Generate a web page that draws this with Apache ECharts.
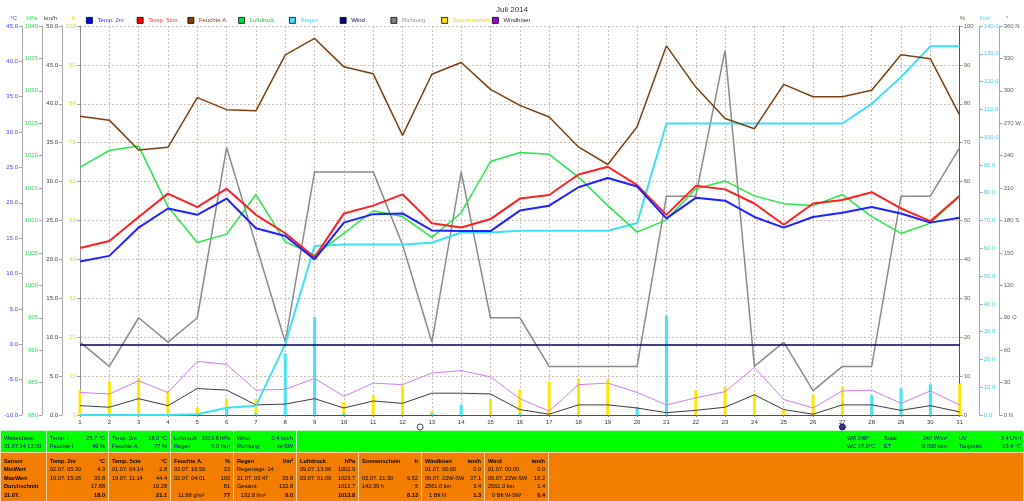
<!DOCTYPE html>
<html><head><meta charset="utf-8">
<script src="https://cdn.jsdelivr.net/npm/echarts/dist/echarts.min.js"></script>
<style>html,body{margin:0;padding:0;background:#fff}#c{width:1024px;height:501px}</style>
</head><body><div id="c"></div><script>
// ---------- data ----------
const days = [1,2,3,4,5,6,7,8,9,10,11,12,13,14,15,16,17,18,19,20,21,22,23,24,25,26,27,28,29,30,31];
const temp2m = [11.7,12.5,16.5,19.2,18.3,20.6,16.4,15.3,12.0,17.2,18.4,18.5,16.1,16.0,16.0,18.9,19.6,22.2,23.5,22.3,17.8,20.7,20.3,18.0,16.5,18.0,18.6,19.4,18.5,17.2,17.9];
const temp5cm = [13.6,14.6,18.0,21.3,19.4,22.0,18.3,15.7,12.3,18.5,19.6,21.2,17.1,16.5,17.7,20.6,21.1,24.0,25.1,22.5,18.3,22.4,21.9,19.9,16.9,19.9,20.4,21.5,19.2,17.4,21.0];
const humidity = [76.8,75.8,68.1,68.8,81.6,78.5,78.2,92.6,96.8,89.5,87.7,71.9,87.6,90.6,83.7,79.6,76.6,68.9,64.4,74.1,94.9,84.3,76.2,73.6,85.0,81.8,81.8,83.5,92.6,91.6,77.1];
const pressure = [1018.2,1020.8,1021.5,1012.1,1006.6,1007.9,1014.0,1006.7,1004.7,1008.0,1011.5,1010.6,1007.4,1011.2,1019.1,1020.5,1020.2,1016.7,1012.3,1008.2,1010.1,1014.9,1016.1,1013.8,1012.6,1012.3,1014.0,1010.6,1008.0,1009.6,1013.8];
const rainDaily = [0,0,0,0,0.3,2.3,0.7,22.2,35.3,0.6,0,0,0.6,3.7,0,0.6,0,0,0,2.8,35.8,0,0,0,0,0,0,7.1,9.6,11.1,0];
const rainTotal = [0,0,0,0,0.3,2.6,3.3,25.5,60.8,61.4,61.4,61.4,62.0,65.7,65.7,66.3,66.3,66.3,66.3,69.1,104.9,104.9,104.9,104.9,104.9,104.9,104.9,112.0,121.6,132.7,132.7];
const wind = [1.2,1.0,2.1,1.2,3.4,3.2,1.3,1.4,2.1,0.9,1.8,1.5,2.8,2.8,2.7,0.7,0.1,1.3,1.3,0.9,0.3,0.6,1.0,2.6,0.7,0.1,1.3,1.3,0.6,1.2,0.4];
const direction = [67.5,45,90,67.5,90,247.5,157.5,67.5,225,225,225,157.5,67.5,225,90,90,45,45,45,45,202.5,202.5,337.5,45,67.5,22.5,45,45,202.5,202.5,247.5];
const sunshine = [6.4,8.7,9.6,6.2,1.9,4.2,4.1,0,0,3.4,5.0,7.6,1.0,0.4,4.1,6.6,8.6,9.4,9.2,0,0,6.4,7.1,5.4,1.3,5.3,7.4,2.0,2.0,1.2,8.1];
const gusts = [2.9,2.7,4.4,2.9,6.9,6.5,3.2,3.3,4.7,2.4,4.1,3.9,5.4,5.7,4.9,2.1,0.5,3.9,4.1,2.9,1.3,2.2,3.0,6.1,2.0,0.9,3.1,3.2,1.5,3.1,1.3];
const moonDays = [12.6, 27];
const moonPhase = ['full','new'];
const compass = {0:'0 N', 90:'90 O', 180:'180 S', 270:'270 W', 360:'360 N'};
const legendNames = ['Temp. 2m','Temp. 5cm','Feuchte A.','Luftdruck','Regen','Wind','Richtung','Sonnenschein','Windböen'];

// table texts
const greenCells = [
  {l:['Wetterdaten','31.07.14 12:00'], r:['','']},
  {l:['Temp. I.','Feuchte I.'], r:['25.7 °C','49 %']},
  {l:['Temp. 2m','Feuchte A.'], r:['18.0 °C','77 %']},
  {l:['Luftdruck','Regen'], r:['1013.8 hPa','0.0 l/m²']},
  {l:['Wind','Richtung'], r:['0.4 km/h','W-SW']},
  {l:['',''], r:['','']}
];
const greenExtra = [
  {l:['WR 248°','WC 18.0°C'], r:['','']},
  {l:['Solar','ET'], r:['240 W/m²','0.000 mm']},
  {l:['UV','Taupunkt'], r:['3.4 UV-I','13.4 °C']}
];
const orangeCols = [
  {l:['Sensor','MinWert','MaxWert','Durchschnitt','31.07.'], r:['','','','','']},
  {l:['Temp. 2m','02.07. 05:30','19.07. 15:26','',''], r:['°C','4.3','30.8','17.88','18.0']},
  {l:['Temp. 5cm','01.07. 04:14','19.07. 11:14','',''], r:['°C','2.8','44.4','19.28','21.1']},
  {l:['Feuchte A.','03.07. 16:59','02.07. 04:01','','11.88 g/m³'], r:['%','33','100','81','77']},
  {l:['Regen','Regentage: 14','21.07. 03:47','Gesamt:','132.8 l/m²'], r:['l/m²','','35.8','132.8','0.0']},
  {l:['Luftdruck','09.07. 13:06','03.07. 01:09','',''], r:['hPa','1002.9','1023.7','1012.7','1013.8']},
  {l:['Sonnenschein','','03.07. 21:30','142:39 h',''], r:['h','','9.52','5','8.13']},
  {l:['Windböen','01.07. 00:00','06.07. 22W-SW','2561.0 km','1 Bft N'], r:['km/h','0.0','37.1','3.4','1.3']},
  {l:['Wind','01.07. 00:00','06.07. 22W-SW','2561.0 km','0 Bft W-SW'], r:['km/h','0.0','16.2','1.4','0.4']},
  {l:['','','','',''], r:['','','','','']}
];

// ---------- layout ----------
const F = '"Liberation Sans", Arial, sans-serif';
const TF = '5.6px ' + F;
const greenX = [[1,46],[47,108],[109,170],[171,233],[234,296],[297,1023]];
const greenExtraX = [[847,880],[884,947],[959,1021]];
const orangeX = [[1,46],[47,108],[109,170],[171,233],[234,296],[297,358],[359,421],[422,484],[485,548],[549,1023]];
const greenRowsY = [438.5, 446.5];
const orangeRowsY = [461, 469.5, 478, 486.5, 495];

const pair = a => a.map((v,i)=>[days[i], v]);

function yAx(o){
  const c = o.color;
  return {
    type:'value', position:o.pos, offset:o.off, min:o.min, max:o.max, interval:o.iv,
    axisLine:{show:true, onZero:false, lineStyle:{color:o.lineColor||'#a8a8a8', width:1}},
    axisTick:{show:true, length:3, lineStyle:{color:'#a0a0a0'}},
    splitLine:o.split ? {show:true, lineStyle:{color:'#c8bcb4', type:[2,2], width:1}} : {show:false},
    axisLabel:{color:c, fontSize:6, fontFamily:F, margin:o.margin||4, formatter:o.fmt},
    name:o.name, nameLocation:'end', nameGap:5,
    nameTextStyle:{color:c, fontSize:6, fontFamily:F, align:o.pos==='left'?'right':'left', padding:o.pos==='left'?[0,5,0,0]:[0,0,0,o.np||0]}
  };
}

const yAxes = [
  yAx({name:'°C', pos:'left', off:58, min:-10, max:45, iv:5, color:'#4646ff', fmt:v=>v.toFixed(1)}),
  yAx({name:'hPa', pos:'left', off:38, min:980, max:1040, iv:5, color:'#2ee05a', fmt:v=>String(v)}),
  yAx({name:'km/h', pos:'left', off:18, min:0, max:50, iv:5, color:'#404040', fmt:v=>v.toFixed(1)}),
  yAx({name:'h', pos:'left', off:0, min:0, max:100, iv:10, color:'#e8e000', fmt:v=>String(v), lineColor:'#909090'}),
  yAx({name:'%', pos:'right', off:0, min:0, max:100, iv:10, color:'#806040', fmt:v=>String(v), split:true, lineColor:'#505070', np:0}),
  yAx({name:'l/m²', pos:'right', off:20, min:0, max:140, iv:10, color:'#3cd4f0', fmt:v=>v.toFixed(1)}),
  yAx({name:'°', pos:'right', off:40, min:0, max:360, iv:30, color:'#606060', fmt:v=>compass[v]||String(v), np:6})
];

function line(name, data, yi, color, w, z){
  return {name, type:'line', yAxisIndex:yi, data:pair(data), symbol:'none', silent:true,
    lineStyle:{color, width:w}, itemStyle:{color}, z:z||3};
}

const series = [
  {name:'Sonnenschein', type:'bar', yAxisIndex:3, data:pair(sunshine), barWidth:3, barGap:'-100%', itemStyle:{color:'#ffe800'}, silent:true, z:2},
  {name:'Regen', type:'bar', yAxisIndex:5, data:pair(rainDaily), barWidth:3, barGap:'-100%', itemStyle:{color:'#44e4fa'}, silent:true, z:2},
  line('Wind', wind, 2, '#3a3a44', 1),
  line('Windböen', gusts, 2, '#d07cf0', 1),
  line('Richtung', direction, 6, '#8a8a8a', 1.5),
  line('Regen', rainTotal, 5, '#3ee0f8', 2),
  line('Luftdruck', pressure, 1, '#22e848', 1.5),
  line('Feuchte A.', humidity, 4, '#7a4010', 1.5),
  line('Temp. 5cm', temp5cm, 0, '#ff2020', 2, 4),
  Object.assign(line('Temp. 2m', temp2m, 0, '#2020ff', 2, 5), {
    markLine:{silent:true, symbol:['none','none'], label:{show:false}, animation:false,
      lineStyle:{color:'#000066', width:1.5, type:'solid'}, data:[{yAxis:0}]}
  }),
  {name:'moon', type:'scatter', yAxisIndex:2, clip:false, silent:true, z:6,
    data:moonDays.map((d,i)=>({value:[d,0], itemStyle: moonPhase[i]==='full'
      ? {color:'#ffffff', borderColor:'#202020', borderWidth:1}
      : {color:'#000060', borderColor:'#000060', borderWidth:1}})),
    symbol:'circle', symbolSize:6, symbolOffset:[0,12]}
];

const legendBox = ['#0000ff','#ff0000','#804000','#00e040','#40e0ff','#000080','#808080','#ffe000','#a000e0'];
const legendText = ['#3030ff','#ff3030','#804020','#20d040','#40d8f0','#000060','#909090','#e8d800','#303030'];
const legends = legendNames.map((n,i)=>({
  left:86+i*50.75, top:17, padding:0, itemWidth:6, itemHeight:6, itemGap:0, icon:'rect', selectedMode:false,
  textStyle:{fontSize:6, fontFamily:F, color:legendText[i]},
  data:[{name:n, icon:'rect', itemStyle:{color:legendBox[i], borderColor:'#000', borderWidth:0.8}, textStyle:{color:legendText[i]}}]
}));

// ---------- table graphics ----------
const g = [];
g.push({type:'rect', shape:{x:0,y:430,width:1024,height:23}, style:{fill:'#c8f8c8'}, silent:true});
g.push({type:'rect', shape:{x:0,y:452,width:1024,height:49}, style:{fill:'#f8d0a0'}, silent:true});
function txt(x, y, t, fill, font, align){
  g.push({type:'text', x, y, silent:true, style:{text:t, fill, font, align, verticalAlign:'middle'}});
}
greenCells.forEach((c,i)=>{
  const [x0,x1] = greenX[i];
  g.push({type:'rect', shape:{x:x0,y:431,width:x1-x0,height:21}, style:{fill:'#00ff00'}, silent:true});
  c.l.forEach((t,r)=>{ if(t) txt(x0+3, greenRowsY[r], t, '#000080', TF, 'left'); });
  c.r.forEach((t,r)=>{ if(t) txt(x1-3, greenRowsY[r], t, '#000080', TF, 'right'); });
});
greenExtra.forEach((c,i)=>{
  const [x0,x1] = greenExtraX[i];
  c.l.forEach((t,r)=>{ if(t) txt(x0, greenRowsY[r], t, '#000080', TF, 'left'); });
  c.r.forEach((t,r)=>{ if(t) txt(x1, greenRowsY[r], t, '#000080', TF, 'right'); });
});
orangeCols.forEach((c,i)=>{
  const [x0,x1] = orangeX[i];
  g.push({type:'rect', shape:{x:x0,y:453,width:x1-x0,height:48}, style:{fill:'#f47e00'}, silent:true});
  c.l.forEach((t,r)=>{
    if(!t) return;
    const bold = (i===0 || r===0);
    const ind = (r===4 && i>0) ? 7 : 3;
    txt(x0+ind, orangeRowsY[r], t, '#000', (bold?'bold ':'')+TF, 'left');
  });
  c.r.forEach((t,r)=>{
    if(!t) return;
    const bold = (r===0 || r===4);
    txt(x1-3, orangeRowsY[r], t, '#000', (bold?'bold ':'')+TF, 'right');
  });
});

const chart = echarts.init(document.getElementById('c'));
chart.setOption({
  animation:false,
  backgroundColor:'#ffffff',
  title:{text:'Juli 2014', left:'center', top:1, textStyle:{fontSize:8, fontWeight:'normal', color:'#333', fontFamily:F}},
  legend:legends,
  grid:{left:80, right:64, top:26, bottom:86, containLabel:false},
  xAxis:{type:'value', min:1, max:31, interval:1,
    axisLine:{onZero:false, lineStyle:{color:'#505050'}},
    axisTick:{show:true, length:2, lineStyle:{color:'#808080'}},
    axisLabel:{fontSize:6, fontFamily:F, color:'#333', margin:4},
    splitLine:{show:true, lineStyle:{color:'#c8bcb4', type:[2,2], width:1}}},
  yAxis:yAxes,
  series:series,
  graphic:g
});
</script></body></html>
